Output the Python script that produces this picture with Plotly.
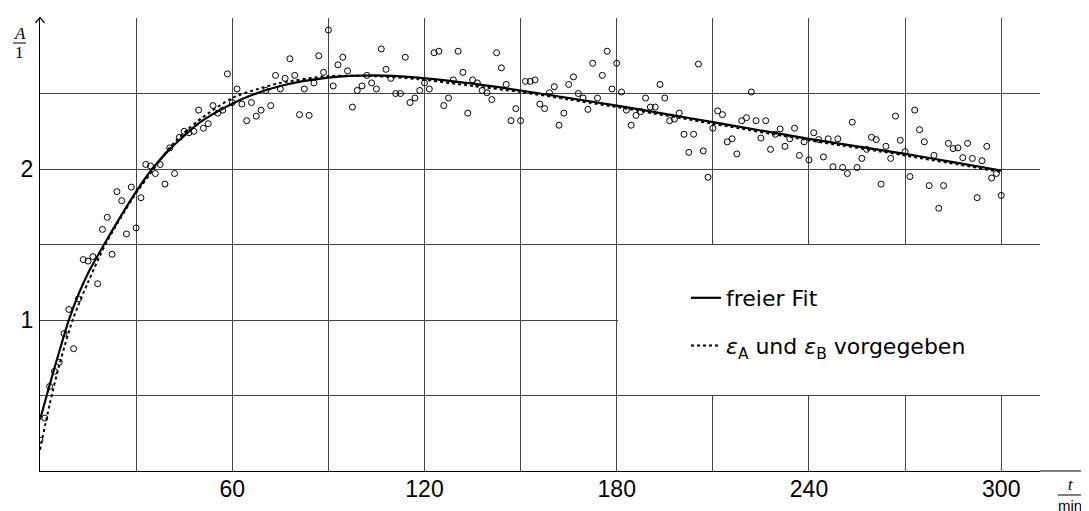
import plotly.graph_objects as go

# ---------------- data ----------------
t_min = [
    0.0, 1.5, 3.0, 4.5, 6.0, 7.5, 9.0, 10.5, 12.0, 13.5, 15.0, 16.5, 18.0, 19.5, 21.0, 22.5,
    24.0, 25.5, 27.0, 28.5, 30.0, 31.5, 33.0, 34.5, 36.0, 37.5, 39.0, 40.5, 42.0, 43.5, 45.0,
    46.5, 48.0, 49.5, 51.0, 52.5, 54.0, 55.5, 57.0, 58.5, 60.0, 61.5, 63.0, 64.5, 66.0, 67.5,
    69.0, 70.5, 72.0, 73.5, 75.0, 76.5, 78.0, 79.5, 81.0, 82.5, 84.0, 85.5, 87.0, 88.5, 90.0,
    91.5, 93.0, 94.5, 96.0, 97.5, 99.0, 100.5, 102.0, 103.5, 105.0, 106.5, 108.0, 109.5, 111.0,
    112.5, 114.0, 115.5, 117.0, 118.5, 120.0, 121.5, 123.0, 124.5, 126.0, 127.5, 129.0, 130.5,
    132.0, 133.5, 135.0, 136.5, 138.0, 139.5, 141.0, 142.5, 144.0, 145.5, 147.0, 148.5, 150.0,
    151.5, 153.0, 154.5, 156.0, 157.5, 159.0, 160.5, 162.0, 163.5, 165.0, 166.5, 168.0, 169.5,
    171.0, 172.5, 174.0, 175.5, 177.0, 178.5, 180.0, 181.5, 183.0, 184.5, 186.0, 187.5, 189.0,
    190.5, 192.0, 193.5, 195.0, 196.5, 198.0, 199.5, 201.0, 202.5, 204.0, 205.5, 207.0, 208.5,
    210.0, 211.5, 213.0, 214.5, 216.0, 217.5, 219.0, 220.5, 222.0, 223.5, 225.0, 226.5, 228.0,
    229.5, 231.0, 232.5, 234.0, 235.5, 237.0, 238.5, 240.0, 241.5, 243.0, 244.5, 246.0, 247.5,
    249.0, 250.5, 252.0, 253.5, 255.0, 256.5, 258.0, 259.5, 261.0, 262.5, 264.0, 265.5, 267.0,
    268.5, 270.0, 271.5, 273.0, 274.5, 276.0, 277.5, 279.0, 280.5, 282.0, 283.5, 285.0, 286.5,
    288.0, 289.5, 291.0, 292.5, 294.0, 295.5, 297.0, 298.5, 300.0,
]

absorbance = [
    0.205, 0.35, 0.56, 0.66, 0.72, 0.91, 1.07, 0.81, 1.14, 1.40, 1.39, 1.42, 1.24, 1.60, 1.68, 1.435,
    1.85, 1.79, 1.57, 1.88, 1.61, 1.81, 2.03, 2.02, 1.97, 2.03, 1.90, 2.14, 1.97, 2.21, 2.25,
    2.24, 2.25, 2.39, 2.27, 2.30, 2.42, 2.37, 2.39, 2.63, 2.44, 2.53, 2.43, 2.32, 2.44, 2.35,
    2.39, 2.52, 2.42, 2.62, 2.53, 2.60, 2.73, 2.62, 2.36, 2.53, 2.355, 2.57, 2.75, 2.64, 2.92,
    2.55, 2.69, 2.74, 2.65, 2.41, 2.52, 2.55, 2.62, 2.57, 2.53, 2.795, 2.66, 2.60, 2.50,
    2.50, 2.74, 2.44, 2.47, 2.52, 2.57, 2.53, 2.77, 2.78, 2.42, 2.47, 2.59, 2.78,
    2.64, 2.37, 2.59, 2.57, 2.52, 2.505, 2.46, 2.77, 2.67, 2.56, 2.32, 2.40, 2.32,
    2.58, 2.58, 2.59, 2.43, 2.40, 2.505, 2.545, 2.29, 2.37, 2.56, 2.61, 2.50, 2.47,
    2.395, 2.70, 2.47, 2.62, 2.78, 2.53, 2.70, 2.51, 2.39, 2.29, 2.355, 2.38, 2.47,
    2.41, 2.41, 2.56, 2.47, 2.32, 2.33, 2.37, 2.23, 2.11, 2.23, 2.695, 2.12, 1.945,
    2.27, 2.385, 2.36, 2.18, 2.20, 2.10, 2.32, 2.34, 2.51, 2.32, 2.205, 2.32, 2.13,
    2.23, 2.265, 2.15, 2.20, 2.27, 2.09, 2.18, 2.06, 2.24, 2.195, 2.08, 2.20, 2.015,
    2.20, 2.01, 1.97, 2.31, 2.01, 2.07, 2.13, 2.21, 2.195, 1.90, 2.15, 2.07, 2.35,
    2.19, 2.115, 1.95, 2.39, 2.26, 2.18, 1.89, 2.09, 1.74, 1.89, 2.17, 2.135, 2.14,
    2.075, 2.17, 2.07, 1.81, 2.055, 2.15, 1.94, 1.97, 1.825,
]

# "freier Fit" curve
fit_free_t = [0, 3, 6, 9, 12, 15, 20, 25, 30, 35, 40, 45, 50, 58, 65, 75, 90, 104, 118,
              135, 150, 165, 180, 195, 210, 225, 240, 255, 270, 285, 300]
fit_free_A = [0.34, 0.57, 0.79, 1.00, 1.17, 1.31, 1.50, 1.68, 1.85, 2.00, 2.12, 2.22, 2.31,
              2.41, 2.48, 2.55, 2.605, 2.62, 2.605, 2.565, 2.52, 2.47, 2.42, 2.365, 2.31,
              2.255, 2.20, 2.15, 2.10, 2.045, 1.99]

# "eps_A und eps_B vorgegeben" curve
fit_fixed_t = [0, 3, 6, 10.2, 15, 20.4, 25, 30, 35.5, 40, 45, 50, 60, 68, 75, 90, 104, 118,
               135, 150, 165, 180, 210, 240, 270, 300]
fit_fixed_A = [0.14, 0.44, 0.70, 1.00, 1.25, 1.50, 1.67, 1.84, 2.00, 2.13, 2.24, 2.33, 2.47,
               2.53, 2.57, 2.615, 2.615, 2.595, 2.55, 2.51, 2.46, 2.41, 2.30, 2.19, 2.09, 1.98]

x_labelled = [60, 120, 180, 240, 300]
x_labels = ["60", "120", "180", "240", "300"]
x_minor = [30, 90, 150, 210, 270]
y_labelled = [1.0, 2.0]
y_labels = ["1", "2"]
y_minor = [0.5, 1.5, 2.5]

legend_free = "freier Fit"
legend_fixed = "<i>ε</i><sub>A</sub> und <i>ε</i><sub>B</sub> vorgegeben"

# ---------------- figure ----------------
SANS = "Liberation Sans"
SERIF = "Liberation Serif"
X_MAX = 312.1
Y_MAX = 3.0
PAGE = 8                             # page margin around the figure
L, T, PW, PH = 32, 10, 1000, 453     # plot area (figure pixels)


def px(xs):
    """screen x pixel -> paper x"""
    return (xs - PAGE - L) / PW


def py(ys):
    """screen y pixel -> paper y"""
    return (PAGE + T + PH - ys) / PH


fig = go.Figure()

fig.add_trace(go.Scatter(
    x=t_min, y=absorbance, mode="markers", showlegend=False,
    marker=dict(symbol="circle-open", size=6, color="black", line=dict(width=1, color="black")),
))
fig.add_trace(go.Scatter(
    x=fit_free_t, y=fit_free_A, mode="lines", name=legend_free, legendgroup="a",
    line=dict(color="black", width=2.2, shape="spline", smoothing=0.8),
))
fig.add_trace(go.Scatter(
    x=fit_fixed_t, y=fit_fixed_A, mode="lines", name=legend_fixed, legendgroup="b",
    line=dict(color="black", width=2, dash="dot", shape="spline", smoothing=0.8),
))

arrow_path = "M {:.5f},{:.5f} L {:.5f},{:.5f} L {:.5f},{:.5f}".format(
    px(35.5), py(23), px(40), py(17.5), px(44.5), py(23))

shapes = [
    dict(type="rect", xref="x", yref="y", x0=180.4, x1=X_MAX, y0=0.504, y1=1.496,
         fillcolor="white", line=dict(width=0), layer="above"),
    dict(type="path", xref="paper", yref="paper", path=arrow_path,
         line=dict(color="black", width=1.2)),
    dict(type="line", xref="paper", yref="paper", x0=1.0, x1=1.08, y0=0, y1=0,
         line=dict(color="black", width=1.2)),
    dict(type="line", xref="paper", yref="paper", x0=px(13), x1=px(26),
         y0=py(43), y1=py(43), line=dict(color="black", width=1)),
    dict(type="line", xref="paper", yref="paper", x0=px(1058), x1=px(1083),
         y0=py(495), y1=py(495), line=dict(color="black", width=1)),
]

annotations = [
    dict(text="<i>A</i>", xref="paper", yref="paper", x=px(19.5), y=py(34),
         showarrow=False, xanchor="center", yanchor="middle", font=dict(family=SERIF, size=17)),
    dict(text="1", xref="paper", yref="paper", x=px(19.5), y=py(53),
         showarrow=False, xanchor="center", yanchor="middle", font=dict(family=SERIF, size=17)),
    dict(text="<i>t</i>", xref="paper", yref="paper", x=px(1070), y=py(485),
         showarrow=False, xanchor="center", yanchor="middle", font=dict(family=SERIF, size=16)),
    dict(text="min", xref="paper", yref="paper", x=px(1070), y=py(505),
         showarrow=False, xanchor="center", yanchor="middle", font=dict(family=SANS, size=15)),
]

fig.update_layout(
    width=1089, height=511,
    margin=dict(l=L, r=1089 - L - PW, t=T, b=511 - T - PH, pad=0, autoexpand=False),
    paper_bgcolor="white", plot_bgcolor="white",
    font=dict(family=SANS, size=23, color="black"),
    shapes=shapes, annotations=annotations,
    legend=dict(x=px(677 + 11 - 2), y=py(277), xanchor="left", yanchor="top",
                bgcolor="rgba(0,0,0,0)", borderwidth=0, tracegroupgap=16,
                font=dict(family="DejaVu Sans", size=22, color="black")),
    xaxis=dict(range=[0, X_MAX], tickvals=x_labelled, ticktext=x_labels, showgrid=True,
               gridcolor="#444", gridwidth=1, zeroline=False, showline=True, linecolor="black",
               linewidth=1.2, ticks="", ticklabelstandoff=-3, automargin=False,
               tickfont=dict(family=SANS, size=23),
               minor=dict(tickvals=x_minor, showgrid=True, gridcolor="#444", gridwidth=1,
                          ticks="")),
    yaxis=dict(range=[0, Y_MAX], tickvals=y_labelled, ticktext=y_labels, showgrid=True,
               gridcolor="#444", gridwidth=1, zeroline=False, showline=True, linecolor="black",
               linewidth=1.2, ticks="", ticklabelstandoff=1, automargin=False,
               tickfont=dict(family=SANS, size=23),
               minor=dict(tickvals=y_minor, showgrid=True, gridcolor="#444", gridwidth=1,
                          ticks="")),
)

fig.write_html("out.html")
